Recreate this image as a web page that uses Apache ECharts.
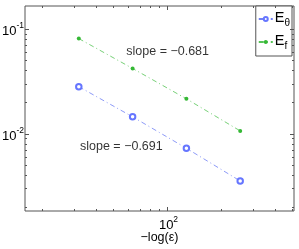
<!DOCTYPE html>
<html>
<head>
<meta charset="utf-8">
<script src="https://cdn.jsdelivr.net/npm/echarts@6/dist/echarts.min.js"></script>
<style>html,body{margin:0;padding:0;background:#fff;}#c{width:299px;height:249px;}</style>
</head>
<body>
<div id="c"></div>
<script>
// ---- data ----
const epsX = [32, 64, 128, 256];
const eTheta = [0.0280, 0.01443, 0.00723, 0.00352];
const eF = [0.0806, 0.0418, 0.02143, 0.01059];
const seriesNames = ['E_θ', 'E_f'];
const slopeTexts = ['slope = −0.681', 'slope = −0.691'];
const slopeX = [59, 32.5];
const slopeY = [0.0612, 0.00755];
const xLimits = [16, 512];
const yLimits = [0.00182, 0.165];
const xMajorTicks = [100];
const xMinorTicks = [20, 30, 40, 50, 60, 70, 80, 90, 200, 300, 400, 500];
const yMajorTicks = [0.01, 0.1];
const yMinorTicks = [0.002, 0.003, 0.004, 0.005, 0.006, 0.007, 0.008, 0.009,
                     0.02, 0.03, 0.04, 0.05, 0.06, 0.07, 0.08, 0.09];
const xTitle = '−log(ε)';

const FONT = '"Liberation Sans", Arial, sans-serif';
const AXC = '#555';

const tickData = [];
xMajorTicks.forEach(v => tickData.push([v, yLimits[0], 0, 1]));
xMinorTicks.forEach(v => tickData.push([v, yLimits[0], 0, 0]));
yMajorTicks.forEach(v => tickData.push([xLimits[0], v, 1, 1]));
yMinorTicks.forEach(v => tickData.push([xLimits[0], v, 1, 0]));

function expLabel(v) {
  const e = Math.round(Math.log10(v));
  return '{b|10}{s|' + (e < 0 ? '-' + (-e) : e) + '}';
}
const labelRich = {
  b: {fontSize: 13, fontFamily: FONT, color: '#000', verticalAlign: 'bottom', lineHeight: 17},
  s: {fontSize: 8.5, fontFamily: FONT, color: '#000', verticalAlign: 'top', lineHeight: 17, padding: [0, 0, 7, 0]}
};

function renderTick(params, api) {
  const kind = api.value(2), major = api.value(3);
  const len = major ? 4 : 2;
  const children = [];
  const ls = {stroke: AXC, lineWidth: 1};
  if (kind === 0) {
    const x = api.value(0);
    const pb = api.coord([x, yLimits[0]]);
    const pt = api.coord([x, yLimits[1]]);
    const px = Math.round(pb[0]) + 0.5;
    children.push({type: 'line', shape: {x1: px, y1: pb[1], x2: px, y2: pb[1] - len}, style: ls});
    children.push({type: 'line', shape: {x1: px, y1: pt[1], x2: px, y2: pt[1] + len}, style: ls});
    if (major) {
      children.push({type: 'text', x: px + 1, y: pb[1] + 4,
        style: {text: expLabel(x), rich: labelRich, align: 'center', verticalAlign: 'top'}});
    }
  } else {
    const y = api.value(1);
    const pl = api.coord([xLimits[0], y]);
    const pr = api.coord([xLimits[1], y]);
    const py = Math.round(pl[1]) + 0.5;
    children.push({type: 'line', shape: {x1: pl[0], y1: py, x2: pl[0] + len, y2: py}, style: ls});
    children.push({type: 'line', shape: {x1: pr[0], y1: py, x2: pr[0] - len, y2: py}, style: ls});
    if (major) {
      children.push({type: 'text', x: pl[0] - 1, y: py,
        style: {text: expLabel(y), rich: labelRich, align: 'right', verticalAlign: 'middle'}});
    }
  }
  return {type: 'group', children: children};
}

const chart = echarts.init(document.getElementById('c'), null, {renderer: 'canvas'});
chart.setOption({
  animation: false,
  backgroundColor: '#fff',
  grid: {left: 25, top: 6, right: 5, bottom: 34, show: true, borderColor: AXC, borderWidth: 1, backgroundColor: 'transparent'},
  xAxis: {
    type: 'log', min: xLimits[0], max: xLimits[1],
    axisLine: {show: false}, axisTick: {show: false}, axisLabel: {show: false}, splitLine: {show: false},
    name: xTitle, nameLocation: 'middle', nameGap: 20,
    nameTextStyle: {fontFamily: FONT, fontSize: 12.5, color: '#000'}
  },
  yAxis: {
    type: 'log', min: yLimits[0], max: yLimits[1],
    axisLine: {show: false}, axisTick: {show: false}, axisLabel: {show: false}, splitLine: {show: false}
  },
  legend: {
    right: 7, top: 6, orient: 'vertical',
    data: seriesNames,
    backgroundColor: '#fff', borderColor: AXC, borderWidth: 1, borderRadius: 0,
    padding: [4, 2, 5, 2], itemGap: 5, itemWidth: 14, itemHeight: 5,
    formatter: function (n) { const p = n.split('_'); return '{e|' + p[0] + '}{u|' + p[1] + '}'; },
    textStyle: {
      padding: [0, 0, 0, -3],
      rich: {
        e: {fontSize: 14.5, fontFamily: FONT, color: '#000', verticalAlign: 'top', lineHeight: 18},
        u: {fontSize: 10, fontFamily: FONT, color: '#000', verticalAlign: 'bottom', lineHeight: 18, padding: [6, 0, 0, 0]}
      }
    }
  },
  series: [
    {
      name: seriesNames[0], type: 'line', data: epsX.map((x, i) => [x, eTheta[i]]),
      symbol: 'emptyCircle', symbolSize: 5.5, color: '#6676ff',
      lineStyle: {width: 0.8, type: [5, 3, 1, 3], color: '#7080f5'},
      itemStyle: {borderWidth: 0.7, color: '#6676ff'}, z: 3
    },
    {
      name: seriesNames[1], type: 'line', data: epsX.map((x, i) => [x, eF[i]]),
      symbol: 'circle', symbolSize: 4, color: '#35b835',
      lineStyle: {width: 0.8, type: [5, 3, 1, 3], color: '#55c455'},
      itemStyle: {color: '#35b835'}, z: 3
    },
    {
      type: 'scatter', symbolSize: 0, silent: true, legendHoverLink: false,
      data: slopeTexts.map((t, i) => ({value: [slopeX[i], slopeY[i]], name: t})),
      label: {show: true, position: 'right', distance: 0, formatter: '{b}',
        fontFamily: FONT, fontSize: 12.5, color: '#000'}, z: 4
    },
    {
      type: 'custom', renderItem: renderTick, data: tickData, silent: true, clip: false,
      encode: {x: 0, y: 1}, z: 5
    }
  ]
});
</script>
</body>
</html>
